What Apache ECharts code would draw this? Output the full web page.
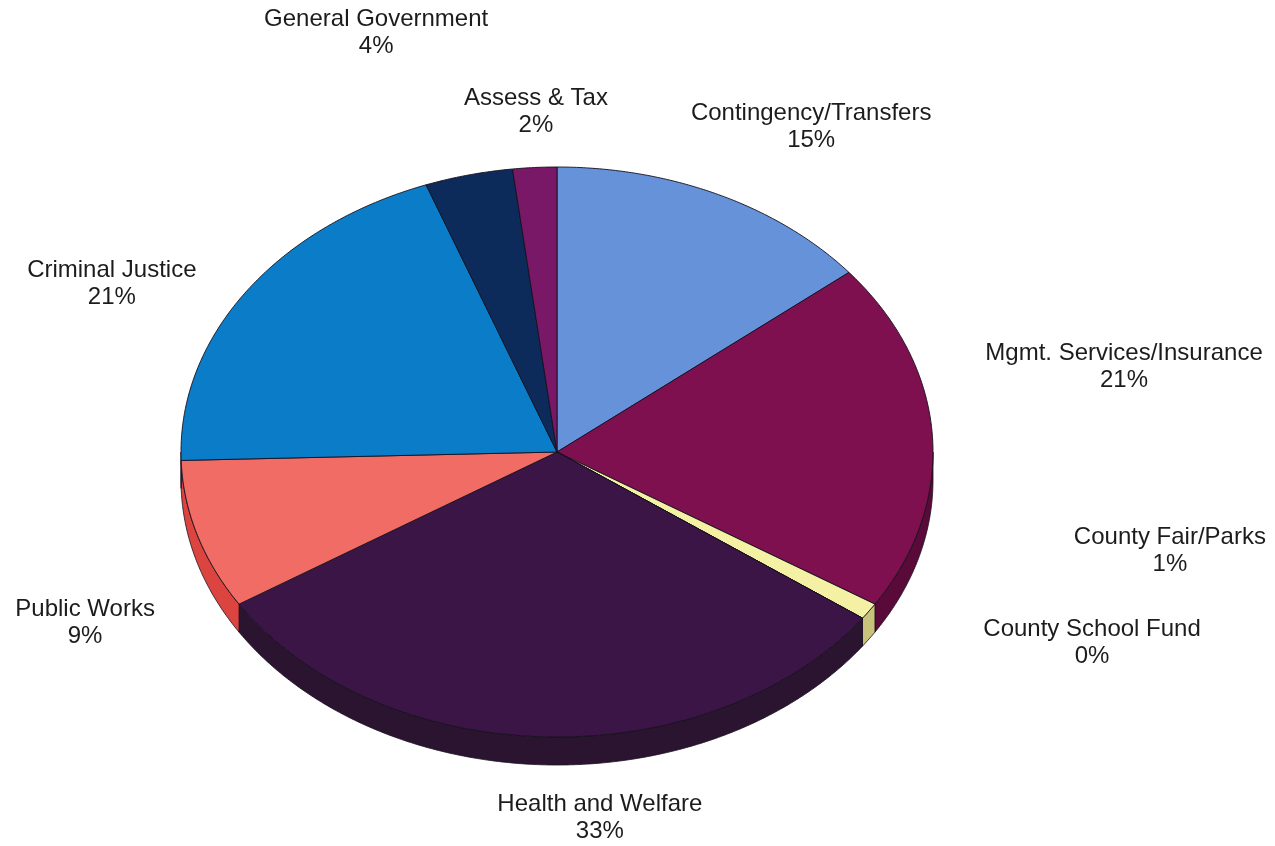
<!DOCTYPE html>
<html>
<head>
<meta charset="utf-8">
<style>
  html, body { margin: 0; padding: 0; background: #ffffff; }
  #chart { width: 1275px; height: 846px; }
</style>
<script src="https://cdn.jsdelivr.net/npm/echarts@6/dist/echarts.min.js"></script>
</head>
<body>
<div id="chart"></div>
<script>
// Budget shares by function (percent as labelled)
const categories = [
  'Contingency/Transfers',
  'Mgmt. Services/Insurance',
  'County Fair/Parks',
  'County School Fund',
  'Health and Welfare',
  'Public Works',
  'Criminal Justice',
  'General Government',
  'Assess & Tax'
];
const shares = [15, 21, 1, 0, 33, 9, 21, 4, 2];

// Styling: top face and side wall colours per slice
const topColors  = ['#6592d8', '#7e1050', '#f4f0a4', '#bfe6f0', '#3a1545', '#f06c64', '#0b7dc8', '#0d2b5a', '#7a1868'];
const sideColors = ['#4a70b0', '#5a0a38', '#c8c27a', '#90b8c4', '#2a1430', '#dc4440', '#08609c', '#081d40', '#56104a'];

// Layout: label centres as multiples of the pie radii, measured from the pie centre
const labelSpots = [
  [0.676, -1.140], [1.508, -0.298], [1.630, 0.346], [1.423, 0.670],
  [0.114, 1.284], [-1.255, 0.600], [-1.184, -0.589], [-0.481, -1.470], [-0.056, -1.193]
];
const PIE = { cx: 557, cy: 452, rx: 376, ry: 285, depth: 28 };

const total = shares.reduce((a, b) => a + b, 0);
const before = shares.map((_, i) => shares.slice(0, i).reduce((a, b) => a + b, 0));

function rimPoint(deg, dy) {
  const r = deg * Math.PI / 180;
  return [PIE.cx + PIE.rx * Math.cos(r), PIE.cy - PIE.ry * Math.sin(r) + (dy || 0)];
}
function arcPoints(hi, lo, dy) {
  const pts = [];
  const n = Math.max(2, Math.ceil((hi - lo) / 0.5));
  for (let k = 0; k <= n; k++) pts.push(rimPoint(hi - (hi - lo) * k / n, dy));
  return pts;
}
// start at 12 o'clock, go clockwise
function sliceAngles(i, v) {
  const hi = 90 - 360 * before[i] / total;
  const lo = hi - 360 * v / total;
  return [hi, lo];
}

const data = categories.map((c, i) => ({ name: c, value: [i, shares[i]] }));

function renderSide(params, api) {
  const i = api.value(0), v = api.value(1);
  const [hi, lo] = sliceAngles(i, v);
  // visible wall: the front half of the rim, angles in [-180, 0]
  const a = Math.min(hi, 0), b = Math.max(lo, -180);
  if (v <= 0 || a <= b) return { type: 'group', children: [] };
  const top = arcPoints(a, b, 0);
  const bottom = arcPoints(a, b, PIE.depth).reverse();
  return {
    type: 'polygon',
    shape: { points: top.concat(bottom) },
    style: { fill: sideColors[i], stroke: '#1a1020', lineWidth: 0.8 }
  };
}

function renderTop(params, api) {
  const i = api.value(0), v = api.value(1);
  const [hi, lo] = sliceAngles(i, v);
  const pts = [[PIE.cx, PIE.cy]].concat(arcPoints(hi, lo, 0));
  const spot = labelSpots[i];
  return {
    type: 'group',
    children: [
      {
        type: 'polygon',
        shape: { points: pts },
        style: { fill: topColors[i], stroke: '#14101c', lineWidth: 0.9 }
      },
      {
        type: 'text',
        x: PIE.cx + spot[0] * PIE.rx,
        y: PIE.cy + spot[1] * PIE.ry,
        style: {
          text: categories[i] + '\n' + v + '%',
          align: 'center',
          verticalAlign: 'middle',
          fontFamily: '"Liberation Sans", Arial, sans-serif',
          fontSize: 24,
          lineHeight: 27,
          fill: '#1c1c1c'
        }
      }
    ]
  };
}

const chart = echarts.init(document.getElementById('chart'), null, { renderer: 'canvas' });
chart.setOption({
  backgroundColor: '#ffffff',
  animation: false,
  series: [
    { type: 'custom', coordinateSystem: 'none', z: 1, data: data, renderItem: renderSide, silent: true },
    { type: 'custom', coordinateSystem: 'none', z: 2, data: data, renderItem: renderTop, silent: true }
  ]
});
</script>
</body>
</html>
